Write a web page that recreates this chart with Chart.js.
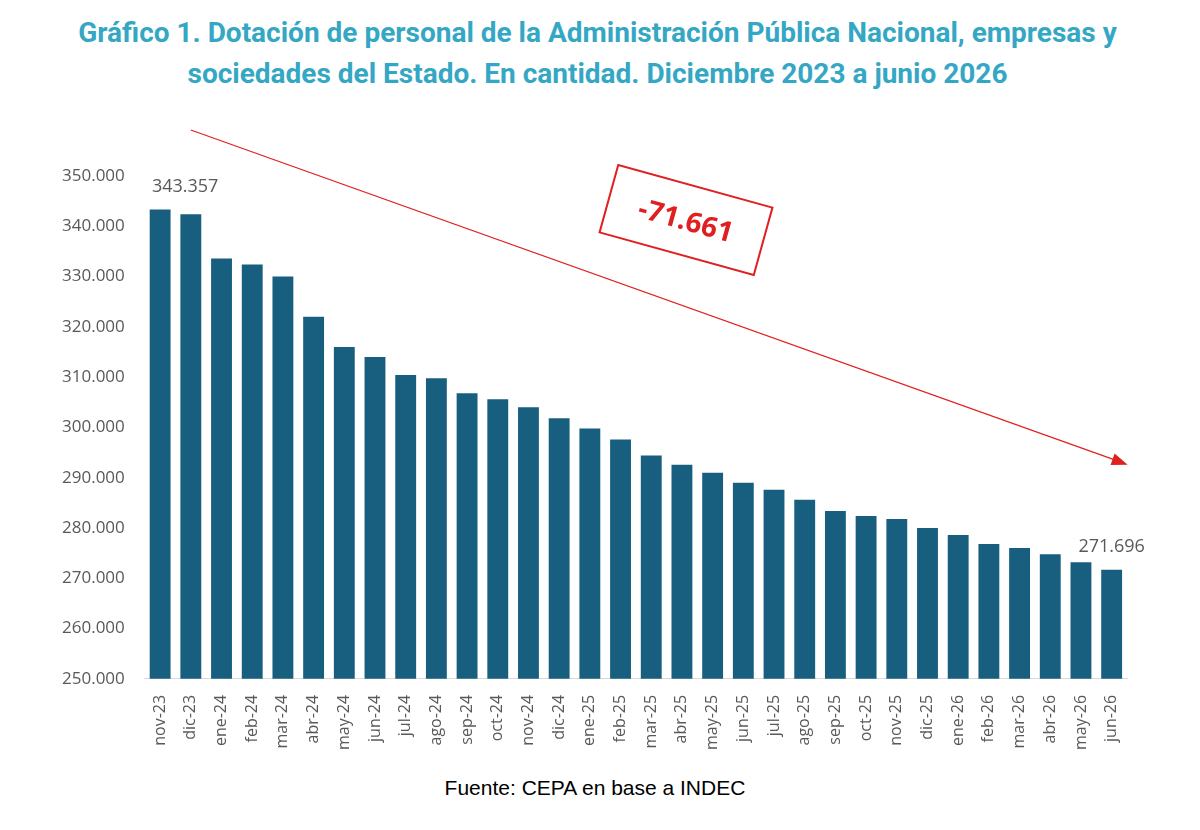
<!DOCTYPE html>
<html>
<head>
<meta charset="utf-8">
<script src="https://cdn.jsdelivr.net/npm/chart.js@4.4.1/dist/chart.umd.min.js"></script>
<style>
  body { margin: 0; background: #fff; font-family: Roboto, "Noto Sans", sans-serif; }
  #title { position: absolute; top: 12px; left: 0; width: 1195px; text-align: center;
    color: #34A7C4; font-weight: bold; font-size: 28px; line-height: 41px; }
  #wrap { position: absolute; top: 100px; left: 0; width: 1200px; height: 658px; }
  #fuente { position: absolute; top: 776px; left: 0; width: 1190px; text-align: center;
    font-family: Arial, "Liberation Sans", sans-serif; font-size: 21px; color: #000; }
</style>
</head>
<body>
<div id="title">Gráfico 1. Dotación de personal de la Administración Pública Nacional, empresas y<br>sociedades del Estado. En cantidad. Diciembre 2023 a junio 2026</div>
<div id="wrap"><canvas id="chart"></canvas></div>
<div id="fuente">Fuente: CEPA en base a INDEC</div>
<script>
const meses = ["nov-23","dic-23","ene-24","feb-24","mar-24","abr-24","may-24","jun-24","jul-24","ago-24",
  "sep-24","oct-24","nov-24","dic-24","ene-25","feb-25","mar-25","abr-25","may-25","jun-25","jul-25",
  "ago-25","sep-25","oct-25","nov-25","dic-25","ene-26","feb-26","mar-26","abr-26","may-26","jun-26"];
const dotacion = [343357,342400,333600,332400,330000,322000,316000,314000,310400,309800,
  306800,305600,304000,301800,299800,297600,294400,292600,291000,289000,287600,
  285600,283400,282400,281800,280000,278600,276800,276000,274800,273200,271696];
const variacion = "-71.661";

const fmt = v => v.toLocaleString("de-DE");

const extras = {
  id: "extras",
  afterDatasetsDraw(chart) {
    const ctx = chart.ctx;
    const meta = chart.getDatasetMeta(0);
    const area = chart.chartArea;
    ctx.save();
    ctx.font = "18px 'Open Sans', sans-serif";
    ctx.fillStyle = "#595959";
    ctx.textAlign = "center";
    ctx.textBaseline = "bottom";
    const first = meta.data[0], last = meta.data[meta.data.length - 1];
    ctx.fillText(fmt(dotacion[0]), first.x + 25, first.y - 14);
    ctx.fillText(fmt(dotacion[dotacion.length - 1]), last.x, last.y - 14);

    // trend arrow
    const x1 = meta.data[1].x, y1 = area.top - 46;
    const x2 = last.x + 16, y2 = chart.scales.y.getPixelForValue(292600);
    ctx.strokeStyle = "#E02020";
    ctx.fillStyle = "#E02020";
    ctx.lineWidth = 1.2;
    ctx.beginPath(); ctx.moveTo(x1, y1); ctx.lineTo(x2 - 8, y2 - 3); ctx.stroke();
    const ang = Math.atan2(y2 - y1, x2 - x1);
    ctx.beginPath();
    ctx.moveTo(x2, y2);
    ctx.lineTo(x2 - 16 * Math.cos(ang) + 6 * Math.sin(ang), y2 - 16 * Math.sin(ang) - 6 * Math.cos(ang));
    ctx.lineTo(x2 - 16 * Math.cos(ang) - 6 * Math.sin(ang), y2 - 16 * Math.sin(ang) + 6 * Math.cos(ang));
    ctx.closePath(); ctx.fill();

    // rotated box
    ctx.translate(686, 120);
    ctx.rotate(0.27);
    ctx.fillStyle = "#fff";
    ctx.fillRect(-80, -35, 160, 70);
    ctx.lineWidth = 2;
    ctx.strokeRect(-80, -35, 160, 70);
    ctx.fillStyle = "#E02020";
    ctx.font = "bold 28px 'Open Sans', sans-serif";
    ctx.textBaseline = "middle";
    ctx.fillText(variacion, 0, 2);
    ctx.restore();
  }
};

new Chart(document.getElementById("chart"), {
  type: "bar",
  data: {
    labels: meses,
    datasets: [{ data: dotacion, backgroundColor: "#185F7F", barPercentage: 1, categoryPercentage: 0.68 }]
  },
  options: {
    responsive: true,
    maintainAspectRatio: false,
    animation: false,
    layout: { padding: { top: 76, right: 73, left: 50, bottom: 0 } },
    plugins: { legend: { display: false }, tooltip: { enabled: false } },
    scales: {
      y: {
        min: 250000, max: 350000,
        ticks: { stepSize: 10000, callback: v => fmt(v), color: "#595959", padding: 12,
          font: { family: "'Open Sans', sans-serif", size: 17 } },
        grid: { display: false },
        border: { display: false }
      },
      x: {
        ticks: { maxRotation: 90, minRotation: 90, color: "#595959", padding: 8,
          font: { family: "'Open Sans', sans-serif", size: 16 } },
        grid: { display: false },
        border: { color: "#d9d9d9" }
      }
    }
  },
  plugins: [extras]
});
</script>
</body>
</html>
